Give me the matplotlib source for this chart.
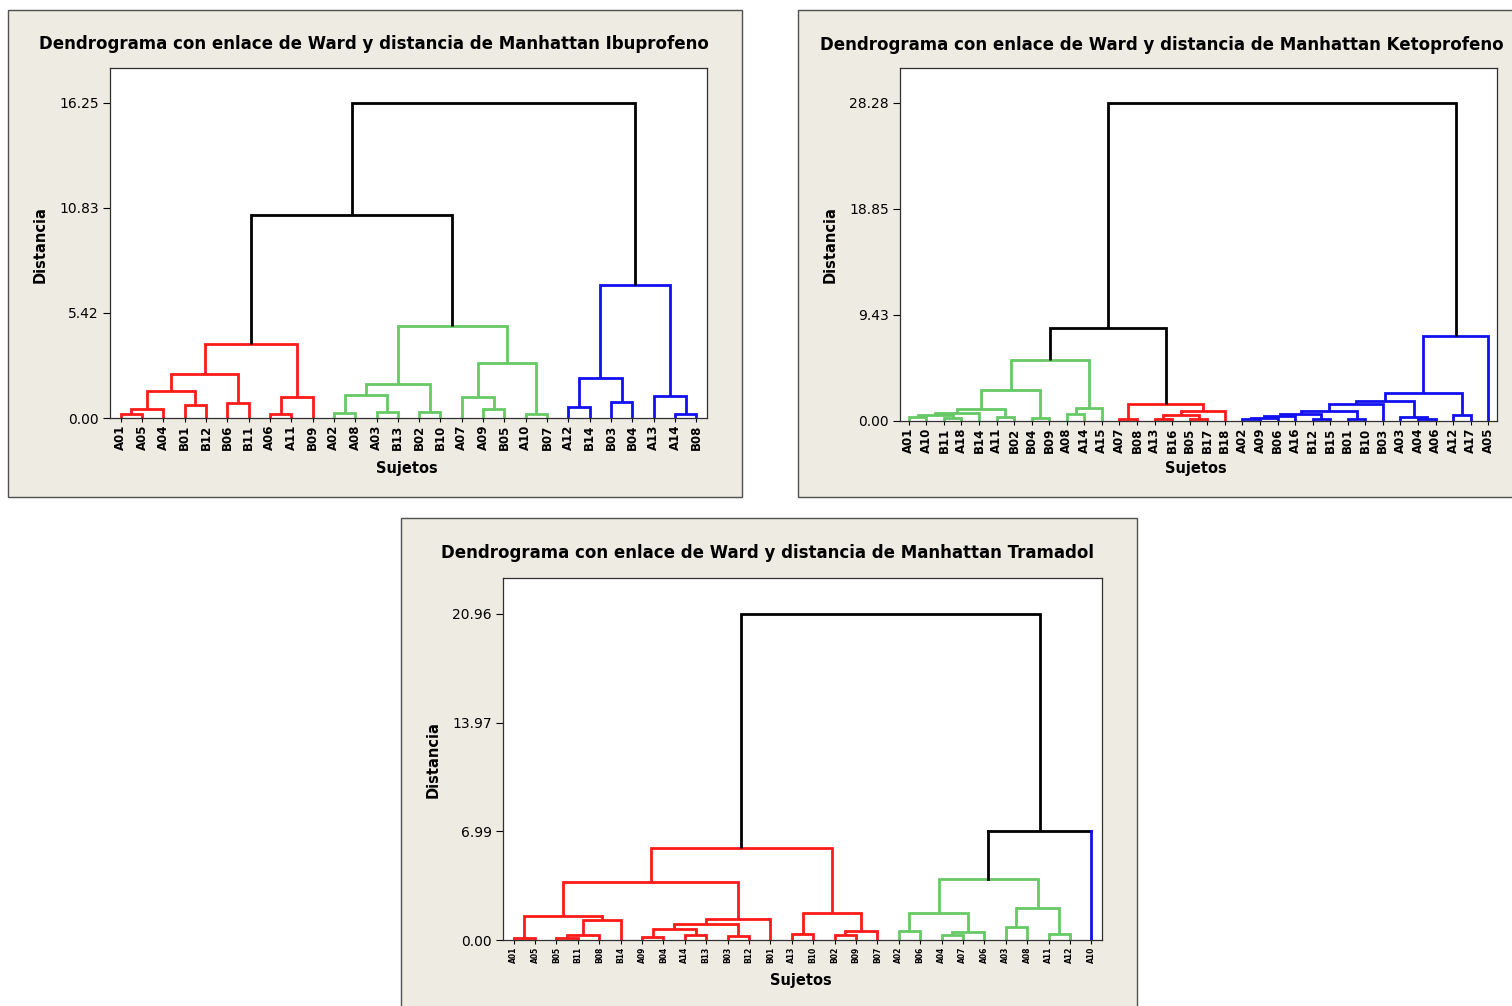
import matplotlib
matplotlib.use("Agg")
import matplotlib.pyplot as plt
from matplotlib.patches import Rectangle
import numpy as np

W, H = 1512, 1006

PALETTE = {"r": "#FF1A1A", "g": "#66C966", "b": "#1010F0", "k": "#000000"}
PANEL_BG = "#EEEBE3"

# Ibuprofeno: leaf order, merges (leaf label or earlier merge index), merge heights, cluster of each merge
ibu_leaves = ["A01", "A05", "A04", "B01", "B12", "B06", "B11", "A06", "A11", "B09",
              "A02", "A08", "A03", "B13", "B02", "B10", "A07", "A09", "B05", "A10",
              "B07", "A12", "B14", "B03", "B04", "A13", "A14", "B08"]
ibu_links = [("A01", "A05"), (0, "A04"), ("B01", "B12"), (1, 2), ("B06", "B11"), (3, 4),
             ("A06", "A11"), (6, "B09"), (5, 7),
             ("A02", "A08"), ("A03", "B13"), (9, 10), ("B02", "B10"), (11, 12),
             ("A09", "B05"), ("A07", 14), ("A10", "B07"), (15, 16), (13, 17),
             (8, 18),
             ("A12", "B14"), ("B03", "B04"), (20, 21), ("A14", "B08"), ("A13", 23), (22, 24),
             (19, 25)]
ibu_heights = [0.20, 0.46, 0.67, 1.39, 0.79, 2.25, 0.20, 1.07, 3.82,
               0.27, 0.33, 1.19, 0.33, 1.77, 0.46, 1.07, 0.19, 2.84, 4.75,
               10.45,
               0.58, 0.84, 2.05, 0.19, 1.12, 6.85,
               16.25]
ibu_groups = ["r"] * 9 + ["g"] * 10 + ["k"] + ["b"] * 6 + ["k"]

# Ketoprofeno
keto_leaves = ["A01", "A10", "B11", "A18", "B14", "A11", "B02", "B04", "B09", "A08",
               "A14", "A15", "A07", "B08", "A13", "B16", "B05", "B17", "B18", "A02",
               "A09", "B06", "A16", "B12", "B15", "B01", "B10", "B03", "A03", "A04",
               "A06", "A12", "A17", "A05"]
keto_links = [("A01", "A10"), ("B11", "A18"), (0, 1), (2, "B14"), ("A11", "B02"), (3, 4),
              ("B04", "B09"), (5, 6), ("A08", "A14"), (8, "A15"), (7, 9),
              ("A07", "B08"), ("A13", "B16"), ("B05", "B17"), (12, 13), (14, "B18"), (11, 15),
              (10, 16),
              ("A02", "A09"), (18, "B06"), (19, "A16"), ("B12", "B15"), (20, 21),
              ("B01", "B10"), (22, 23), (24, "B03"), ("A04", "A06"), ("A03", 26), (25, 27),
              ("A12", "A17"), (28, 29), (30, "A05"),
              (17, 31)]
keto_heights = [0.35, 0.25, 0.53, 0.74, 0.33, 1.04, 0.24, 2.77, 0.60, 1.19, 5.44,
                0.20, 0.20, 0.20, 0.50, 0.92, 1.52,
                8.30,
                0.15, 0.30, 0.45, 0.20, 0.65, 0.20, 0.90, 1.55, 0.20, 0.40, 1.80,
                0.50, 2.50, 7.60,
                28.28]
keto_groups = ["g"] * 11 + ["r"] * 6 + ["k"] + ["b"] * 14 + ["k"]

# Tramadol
tram_leaves = ["A01", "A05", "B05", "B11", "B08", "B14", "A09", "B04", "A14", "B13",
               "B03", "B12", "B01", "A13", "B10", "B02", "B09", "B07", "A02", "B06",
               "A04", "A07", "A06", "A03", "A08", "A11", "A12", "A10"]
tram_links = [("A01", "A05"), ("B05", "B11"), (1, "B08"), (2, "B14"), (0, 3),
              ("A09", "B04"), ("A14", "B13"), (5, 6), ("B03", "B12"), (7, 8), (9, "B01"),
              (4, 10), ("A13", "B10"), ("B02", "B09"), (13, "B07"), (12, 14), (11, 15),
              ("A02", "B06"), ("A04", "A07"), (18, "A06"), (17, 19), ("A03", "A08"),
              ("A11", "A12"), (21, 22), (20, 23),
              (24, "A10"), (16, 25)]
tram_heights = [0.10, 0.15, 0.35, 1.26, 1.52, 0.17, 0.34, 0.68, 0.26, 1.02, 1.35,
                3.73, 0.38, 0.30, 0.60, 1.73, 5.92,
                0.60, 0.32, 0.53, 1.73, 0.85, 0.38, 2.03, 3.95,
                7.00, 20.96]
tram_groups = ["r"] * 17 + ["g"] * 8 + ["k", "k"]
tram_single = {"A10": "b"}  # leaf that forms its own cluster


def px_box(x0, y0, x1, y1):
    return [x0 / W, 1 - y1 / H, (x1 - x0) / W, (y1 - y0) / H]


def draw_dendrogram(ax, leaves, links, heights, groups, single=None, lw=2.0):
    single = single or {}
    pos = {name: i for i, name in enumerate(leaves)}
    xs = []

    def node(ref):
        if isinstance(ref, str):
            return pos[ref], 0.0
        return xs[ref], heights[ref]

    def leg_color(ref, g):
        if isinstance(ref, str) and ref in single:
            return PALETTE[single[ref]]
        return PALETTE[g]

    for (a, b), h, g in zip(links, heights, groups):
        xa, ya = node(a)
        xb, yb = node(b)
        ca, cb, c = leg_color(a, g), leg_color(b, g), PALETTE[g]
        if ca == c and cb == c:
            ax.plot([xa, xa, xb, xb], [ya, h, h, yb], color=c, lw=lw,
                    solid_joinstyle="miter", solid_capstyle="butt")
        else:
            # U-shape with one leg in the colour of a singleton cluster
            ax.plot([xa, xb], [h, h], color=c, lw=lw, solid_capstyle="projecting")
            ax.plot([xa, xa], [ya, h], color=ca, lw=lw)
            ax.plot([xb, xb], [yb, h], color=cb, lw=lw, zorder=3)
        xs.append((xa + xb) / 2)

    n = len(leaves)
    top = max(heights)
    ax.set_xlim(-0.5, n - 0.5)
    ax.set_ylim(0, top * 1.11)
    ticks = np.linspace(0, top, 4)
    ax.set_yticks(ticks)
    ax.set_yticklabels([f"{t:.2f}" for t in ticks])
    ax.set_xticks(range(n))


def setup_panel(fig, box, plot_box, title, title_xy, ylab_xy, xlab_xy,
                leaves, links, heights, groups, single=None, leaf_fs=8.5):
    x0, y0, x1, y1 = box
    fig.patches.append(Rectangle((x0 / W, 1 - y1 / H), (x1 - x0) / W, (y1 - y0) / H,
                                 transform=fig.transFigure, facecolor=PANEL_BG,
                                 edgecolor="#505050", lw=1.0, zorder=-5))
    ax = fig.add_axes(px_box(*plot_box))
    ax.set_facecolor("white")
    draw_dendrogram(ax, leaves, links, heights, groups, single)
    ax.set_xticklabels(leaves, rotation=90, fontsize=leaf_fs, fontweight="bold")
    ax.tick_params(axis="x", length=3, width=0.8, pad=2)
    ax.tick_params(axis="y", length=5, width=0.8, labelsize=10, pad=3)
    for s in ax.spines.values():
        s.set_linewidth(0.9)
        s.set_color("#303030")

    fig.text(title_xy[0] / W, 1 - title_xy[1] / H, title, ha="center", va="center",
             fontsize=12, fontweight="bold")
    fig.text(ylab_xy[0] / W, 1 - ylab_xy[1] / H, "Distancia", ha="center", va="center",
             rotation=90, fontsize=10.5, fontweight="bold")
    fig.text(xlab_xy[0] / W, 1 - xlab_xy[1] / H, "Sujetos", ha="center", va="center",
             fontsize=10.5, fontweight="bold")
    return ax


fig = plt.figure(figsize=(W / 100, H / 100), dpi=100)
fig.patch.set_facecolor("white")

setup_panel(fig, (8, 10, 742, 497), (110, 68, 707, 418),
            "Dendrograma con enlace de Ward y distancia de Manhattan Ibuprofeno",
            (374, 44), (40, 245), (407, 469),
            ibu_leaves, ibu_links, ibu_heights, ibu_groups)

setup_panel(fig, (798, 10, 1530, 497), (900, 68, 1497, 421),
            "Dendrograma con enlace de Ward y distancia de Manhattan Ketoprofeno",
            (1162, 45), (830, 245), (1196, 469),
            keto_leaves, keto_links, keto_heights, keto_groups)

setup_panel(fig, (401, 518, 1137, 1030), (503, 578, 1102, 940),
            "Dendrograma con enlace de Ward y distancia de Manhattan Tramadol",
            (767, 553), (433, 760), (801, 980),
            tram_leaves, tram_links, tram_heights, tram_groups, tram_single, leaf_fs=5.5)

fig.savefig("out.png", dpi=100, facecolor=fig.get_facecolor())
